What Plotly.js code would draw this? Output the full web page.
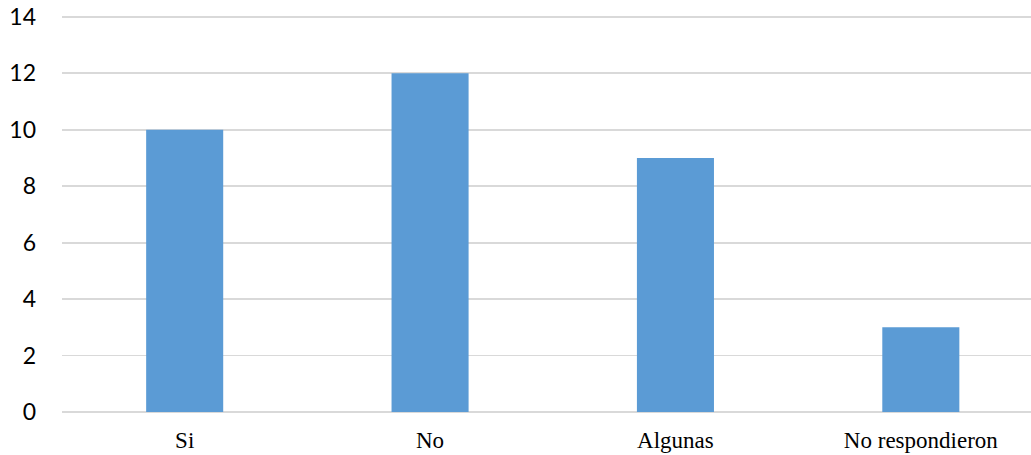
<!DOCTYPE html>
<html>
<head>
<meta charset="utf-8">
<script src="https://cdn.plot.ly/plotly-3.0.1.min.js"></script>
<style>html,body{margin:0;padding:0;background:#fff;overflow:hidden}#chart{width:1031px;height:455px}</style>
</head>
<body>
<div id="chart"></div>
<script>
const categories = ["Si", "No", "Algunas", "No respondieron"];
const values = [10, 12, 9, 3];
const yTicks = [0, 2, 4, 6, 8, 10, 12, 14];

const trace = {
  type: "bar",
  x: categories,
  y: values,
  marker: {color: "#5b9bd5"},
  hoverinfo: "x+y"
};

const layout = {
  width: 1031,
  height: 455,
  margin: {l: 62, r: 0, t: 13.7, b: 42.5},
  paper_bgcolor: "#ffffff",
  plot_bgcolor: "#ffffff",
  bargap: 0.686,
  showlegend: false,
  xaxis: {
    type: "category",
    range: [-0.5, 3.449],
    showgrid: false,
    zeroline: false,
    showline: false,
    ticks: "",
    ticklabelstandoff: 12,
    tickfont: {family: "Liberation Serif, Times New Roman, serif", size: 23, color: "#000000"}
  },
  yaxis: {
    range: [0, 14.1],
    tickvals: yTicks,
    ticktext: yTicks.map(String),
    showgrid: true,
    gridcolor: "#d9d9d9",
    gridwidth: 1.8,
    zeroline: true,
    zerolinecolor: "#d9d9d9",
    zerolinewidth: 1.8,
    showline: false,
    ticks: "",
    ticklabelstandoff: 25,
    tickfont: {family: "Lato, Open Sans, sans-serif", size: 23, color: "#000000"}
  }
};

Plotly.newPlot("chart", [trace], layout, {displayModeBar: false, staticPlot: true});
</script>
</body>
</html>
